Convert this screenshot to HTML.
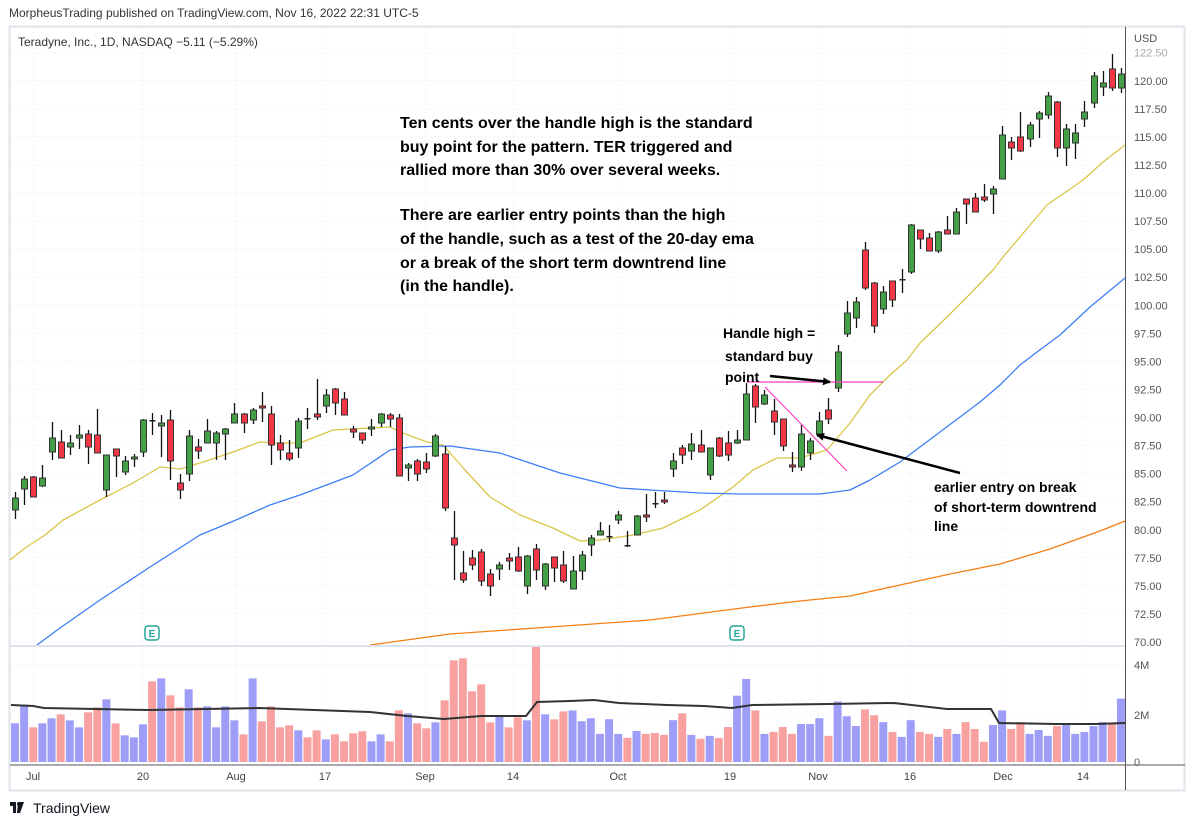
<!DOCTYPE html>
<html><head><meta charset="utf-8">
<style>
html,body{margin:0;padding:0;background:#fff;}
body{width:1195px;height:826px;overflow:hidden;position:relative;font-family:"Liberation Sans",sans-serif;}
svg{position:absolute;left:0;top:0;}
</style></head><body>
<svg id="s" width="1195" height="826" xmlns="http://www.w3.org/2000/svg">
<rect x="0" y="0" width="1195" height="826" fill="#fff"/>
<text x="9" y="17" font-size="12" fill="#333" font-family="Liberation Sans, sans-serif">MorpheusTrading published on TradingView.com, Nov 16, 2022 22:31 UTC-5</text>
<rect x="9.5" y="26.5" width="1175" height="764" fill="none" stroke="#e0e3eb" stroke-width="2"/>
<g id="grid"></g>
<g id="ma"></g>
<g id="vol"></g>
<g id="cand"></g>
<g id="ann"></g>
<text x="18" y="46" font-size="12" fill="#333">Teradyne, Inc., 1D, NASDAQ  −5.11 (−5.29%)</text>
<line x1="1125.5" y1="27" x2="1125.5" y2="790" stroke="#555" stroke-width="1"/>
<line x1="10" y1="646" x2="1125" y2="646" stroke="#e0e3eb" stroke-width="2"/>
<line x1="10" y1="765" x2="1185" y2="765" stroke="#555" stroke-width="1"/>
<g id="axis" font-size="11" fill="#555"></g>
<g font-size="12" font-weight="bold" fill="#000">
<text x="400" y="128" font-size="16">Ten cents over the handle high is the standard</text>
<text x="400" y="152" font-size="16">buy point for the pattern.  TER triggered and</text>
<text x="400" y="175" font-size="16">rallied more than 30% over several weeks.</text>
<text x="400" y="220" font-size="16">There are earlier entry points than the high</text>
<text x="400" y="244" font-size="16">of the handle, such as a test of the 20-day ema</text>
<text x="400" y="268" font-size="16">or a break of the short term downtrend line</text>
<text x="400" y="291" font-size="16">(in the handle).</text>
<text x="723" y="338" font-size="14">Handle high =</text>
<text x="725" y="361" font-size="14">standard buy</text>
<text x="725" y="382" font-size="14">point</text>
<text x="934" y="492" font-size="14">earlier entry on break</text>
<text x="934" y="512" font-size="14">of short-term downtrend</text>
<text x="934" y="531" font-size="14">line</text>
</g>
<g>
<rect x="10" y="802" width="6" height="4" fill="#131722"/><rect x="13" y="802" width="3" height="11" fill="#131722"/>
<path d="M18 802 L24 802 L20 813 L17 813 Z" fill="#131722"/><circle cx="19" cy="804" r="2" fill="#131722"/>
<text x="33" y="813" font-size="14" fill="#131722">TradingView</text>
</g>
</svg>
<script>
var NS="http://www.w3.org/2000/svg";
function el(p,t,a,txt){var e=document.createElementNS(NS,t);for(var k in a)e.setAttribute(k,a[k]);if(txt!==undefined)e.textContent=txt;document.getElementById(p).appendChild(e);return e;}
function yp(p){return 52.7+(122.5-p)*11.225;}
// grid
var xs=[33,143,236,325,425,513,618,730,818,910,1003,1083];
var xl=["Jul","20","Aug","17","Sep","14","Oct","19","Nov","16","Dec","14"];
xs.forEach(function(x,i){el("grid","line",{x1:x,y1:28,x2:x,y2:764,stroke:"#e6e8ee","stroke-dasharray":"1,3"});
 el("axis","text",{x:x,y:780,"text-anchor":"middle","font-size":"11",fill:"#444"},xl[i]);});
for(var p=70;p<=122.5;p+=2.5){var y=yp(p);el("grid","line",{x1:10,y1:y,x2:1125,y2:y,stroke:"#e6e8ee","stroke-dasharray":"1,3"});
 el("axis","text",{x:1134,y:y+4,fill:p==122.5?"#aaa":"#555"},p.toFixed(2));}
el("axis","text",{x:1134,y:42},"USD");
[[665,"4M"],[715,"2M"],[762,"0"]].forEach(function(a){el("axis","text",{x:1134,y:a[0]+4},a[1]);
 el("grid","line",{x1:10,y1:a[0],x2:1125,y2:a[0],stroke:"#e6e8ee","stroke-dasharray":"1,3"});});
// MAs
function pl(pts,c,w){el("ma","polyline",{points:pts,fill:"none",stroke:c,"stroke-width":w||1.3,"stroke-linejoin":"round"});}
pl("10,560 25,548 45,535 63,520 100,500 133,483 160,467 180,469 200,463 233,452 260,442 277,443 300,443 333,430 390,427 400,432 427,442 443,445 465,470 490,497 520,515 553,528 580,541 600,540 633,535 663,528 700,510 733,487 753,470 777,458 800,458 827,450 850,423 870,395 890,375 907,360 920,343 947,317 967,297 993,270 1003,257 1020,237 1047,205 1083,180 1103,162 1125,145","#d9c646");
pl("37,645 60,628 100,600 150,567 200,535 236,520 270,505 300,495 353,475 390,450 410,447 450,446 500,453 560,473 620,488 650,490 700,493 740,494 790,494 820,494 850,490 870,480 900,462 940,432 980,402 1000,385 1020,365 1037,352 1060,335 1090,307 1125,278","#3d7ef5");
pl("370,645 450,634 550,627 650,620 750,607 800,601 850,596 900,585 950,574 1000,564 1050,549 1100,531 1125,521","#f57f17");
// volume
var v1=[[252,1],[196,1],[264,0],[252,1],[237,1],[225,0],[243,1],[264,1],[219,0],[204,0],[180,1],[252,0],[288,1],[294,1],[255,1],[126,0],[117,1],[168,0],[204,0],[150,1],[204,0],[201,1],[264,1],[201,1],[243,1],[285,0],[117,1],[246,0],[201,0],[264,0],[258,0],[273,1],[294,0],[273,0],[300,1],[285,0],[306,0],[282,0],[276,0],[306,1],[285,1],[306,0],[213,0],[222,1],[252,0],[267,0],[249,1],[183,0],[63,0],[57,0],[156,0],[135,0],[249,0],[228,1],[264,0],[234,0],[243,1],[21,0],[225,1],[240,0],[216,0]];
var v2=[[210,1],[243,1],[234,1],[282,1],[237,1],[282,1],[294,0],[273,1],[282,0],[279,0],[285,0],[240,1],[219,0],[285,1],[297,0],[288,1],[294,0],[261,0],[165,1],[114,1],[210,0],[282,1],[276,0],[261,0],[282,0],[252,1],[252,1],[234,1],[288,0],[183,1],[228,1],[258,1],[207,0],[225,0],[246,1],[276,0],[291,1],[240,1],[276,0],[282,0],[291,1],[267,0],[282,1],[246,0],[267,0],[306,0],[255,1],[210,1],[267,0],[246,0],[282,1],[270,1],[288,1],[258,0],[252,1],[282,1],[276,1],[258,1],[246,1],[252,0],[174,1]];
function X(i){return 15+9.14*i;}
v1.forEach(function(v,i){var h=(368-v[0])/3;el("vol","rect",{x:X(i)-4,y:762-h,width:8,height:h,fill:v[1]?"#9e9ef8":"#f9a1a1"});});
v2.forEach(function(v,j){var i=61+j;var h=(368-v[0])/3.06;el("vol","rect",{x:X(i)-4,y:762-h,width:8,height:h,fill:v[1]?"#9e9ef8":"#f9a1a1"});});
el("vol","polyline",{points:"11,705 33,706 44,708 148,710 259,708 370,712 407,716 444,719 481,716 526,716 537,702 570,701 594,700 619,703 667,705 704,706 732,708 752,705 829,704 894,703 947,709 991,709 999,723 1056,724 1096,724 1125,723",fill:"none",stroke:"#333","stroke-width":2});
// candles
var c=[[498,510,492,519,1],[479,489,476,505,1],[477,497,476,497,0],[478,486,465,487,1],[438,452,422,460,1],[442,458,430,458,0],[443,447,435,455,1],[435,438,425,449,1],[434,447,430,464,0],[435,453,409,453,0],[455,490,455,497,1],[449,456,449,477,0],[461,472,456,475,1],[457,459,454,467,1],[420,452,419,457,1],[420,421,413,435,2],[423,426,415,457,1],[420,461,410,480,0],[483,490,474,499,0],[436,474,430,481,1],[447,451,439,459,0],[431,443,419,443,1],[433,443,431,460,1],[429,434,428,460,1],[414,423,403,423,1],[414,423,413,433,0],[410,420,408,424,1],[406,408,392,422,0],[414,445,406,465,0],[443,450,435,460,0],[453,459,440,461,0],[421,448,418,458,1],[418,419,408,429,2],[414,417,379,420,0],[395,406,389,413,1],[389,403,388,415,0],[399,415,392,415,0],[429,432,426,438,0],[433,440,433,444,0],[427,429,419,436,1],[414,423,413,427,1],[415,419,413,427,0],[418,476,414,476,0],[465,468,463,481,1],[461,474,459,481,0],[462,469,453,473,0],[436,456,434,457,1],[454,508,446,511,0],[538,545,511,580,0],[573,580,551,583,0],[558,565,550,570,0],[552,581,549,586,0],[574,586,569,596,0],[565,569,562,580,1],[558,561,553,570,0],[557,571,547,572,0],[556,586,555,594,1],[549,570,544,580,0],[564,586,563,590,1],[557,568,557,582,0],[565,581,551,583,0],[571,589,556,589,1],[555,571,551,580,1],[538,545,535,556,1],[531,535,522,535,1],[536,537,525,542,2],[515,520,511,524,1],[545,546,531,547,2],[516,535,515,535,1],[515,517,494,522,0],[503,504,492,508,2],[500,502,492,504,0],[461,469,453,477,1],[448,455,445,464,0],[444,451,433,460,1],[445,452,430,452,0],[448,475,448,480,1],[438,456,437,457,0],[443,455,431,461,0],[440,443,430,444,1],[394,440,383,440,1],[386,407,384,423,0],[395,404,390,405,1],[411,422,399,435,0],[419,446,419,451,0],[465,467,452,472,0],[434,467,424,471,1],[441,453,438,460,1],[421,434,412,434,1],[410,419,398,424,0],[352,388,345,392,1],[313,334,301,337,1],[302,318,297,328,1],[250,288,242,290,0],[283,326,282,333,0],[292,309,286,314,1],[281,300,281,307,0],[279,280,269,293,2],[225,272,224,274,1],[230,239,230,249,0],[238,251,233,251,0],[232,251,231,253,1],[230,234,216,234,0],[212,234,208,234,1],[199,204,199,224,0],[198,212,193,212,0],[197,200,184,202,0],[189,194,186,214,1],[135,179,126,179,1],[142,148,137,160,0],[137,151,112,152,0],[125,139,122,147,1],[113,119,111,138,1],[96,115,92,119,1],[102,148,101,157,0],[129,148,124,166,1],[133,143,124,159,1],[112,119,101,127,1],[76,103,72,108,1],[83,87,71,96,1],[69,88,54,91,0],[74,88,68,93,1]];
c.forEach(function(d,i){var x=Math.round(X(i))+0.5;
 el("cand","line",{x1:x,y1:d[2],x2:x,y2:d[3],stroke:"#111","stroke-width":1.3});
 if(d[4]==2){el("cand","rect",{x:x-3,y:d[0],width:6,height:Math.max(1.5,d[1]-d[0]),fill:"#222"});}
 else el("cand","rect",{x:x-3,y:d[0],width:6,height:Math.max(1,d[1]-d[0]),fill:d[4]?"#43a047":"#f23645",stroke:"#333","stroke-width":1});});
// annotations
el("ann","line",{x1:747,y1:382,x2:883,y2:382,stroke:"#ff3fbf","stroke-width":1.2});
el("ann","line",{x1:765,y1:387,x2:847,y2:471,stroke:"#ff3fbf","stroke-width":1.2});
el("ann","defs",{}).innerHTML='<marker id="ah" markerWidth="8" markerHeight="8" refX="7" refY="4" orient="auto" markerUnits="userSpaceOnUse"><path d="M0,0 L8,4 L0,8 Z" fill="#000"/></marker>';
el("ann","line",{x1:770,y1:376,x2:830,y2:382,stroke:"#000","stroke-width":2.5,"marker-end":"url(#ah)"});
el("ann","line",{x1:960,y1:473,x2:817,y2:435,stroke:"#000","stroke-width":2.5,"marker-end":"url(#ah)"});
[152,737].forEach(function(x){el("ann","rect",{x:x-7,y:626,width:14,height:14,rx:3,fill:"#fff",stroke:"#26a69a","stroke-width":1.5});
 el("ann","text",{x:x,y:637,"text-anchor":"middle","font-size":"10","font-weight":"bold",fill:"#26a69a"},"E");});
</script>
</body></html>
